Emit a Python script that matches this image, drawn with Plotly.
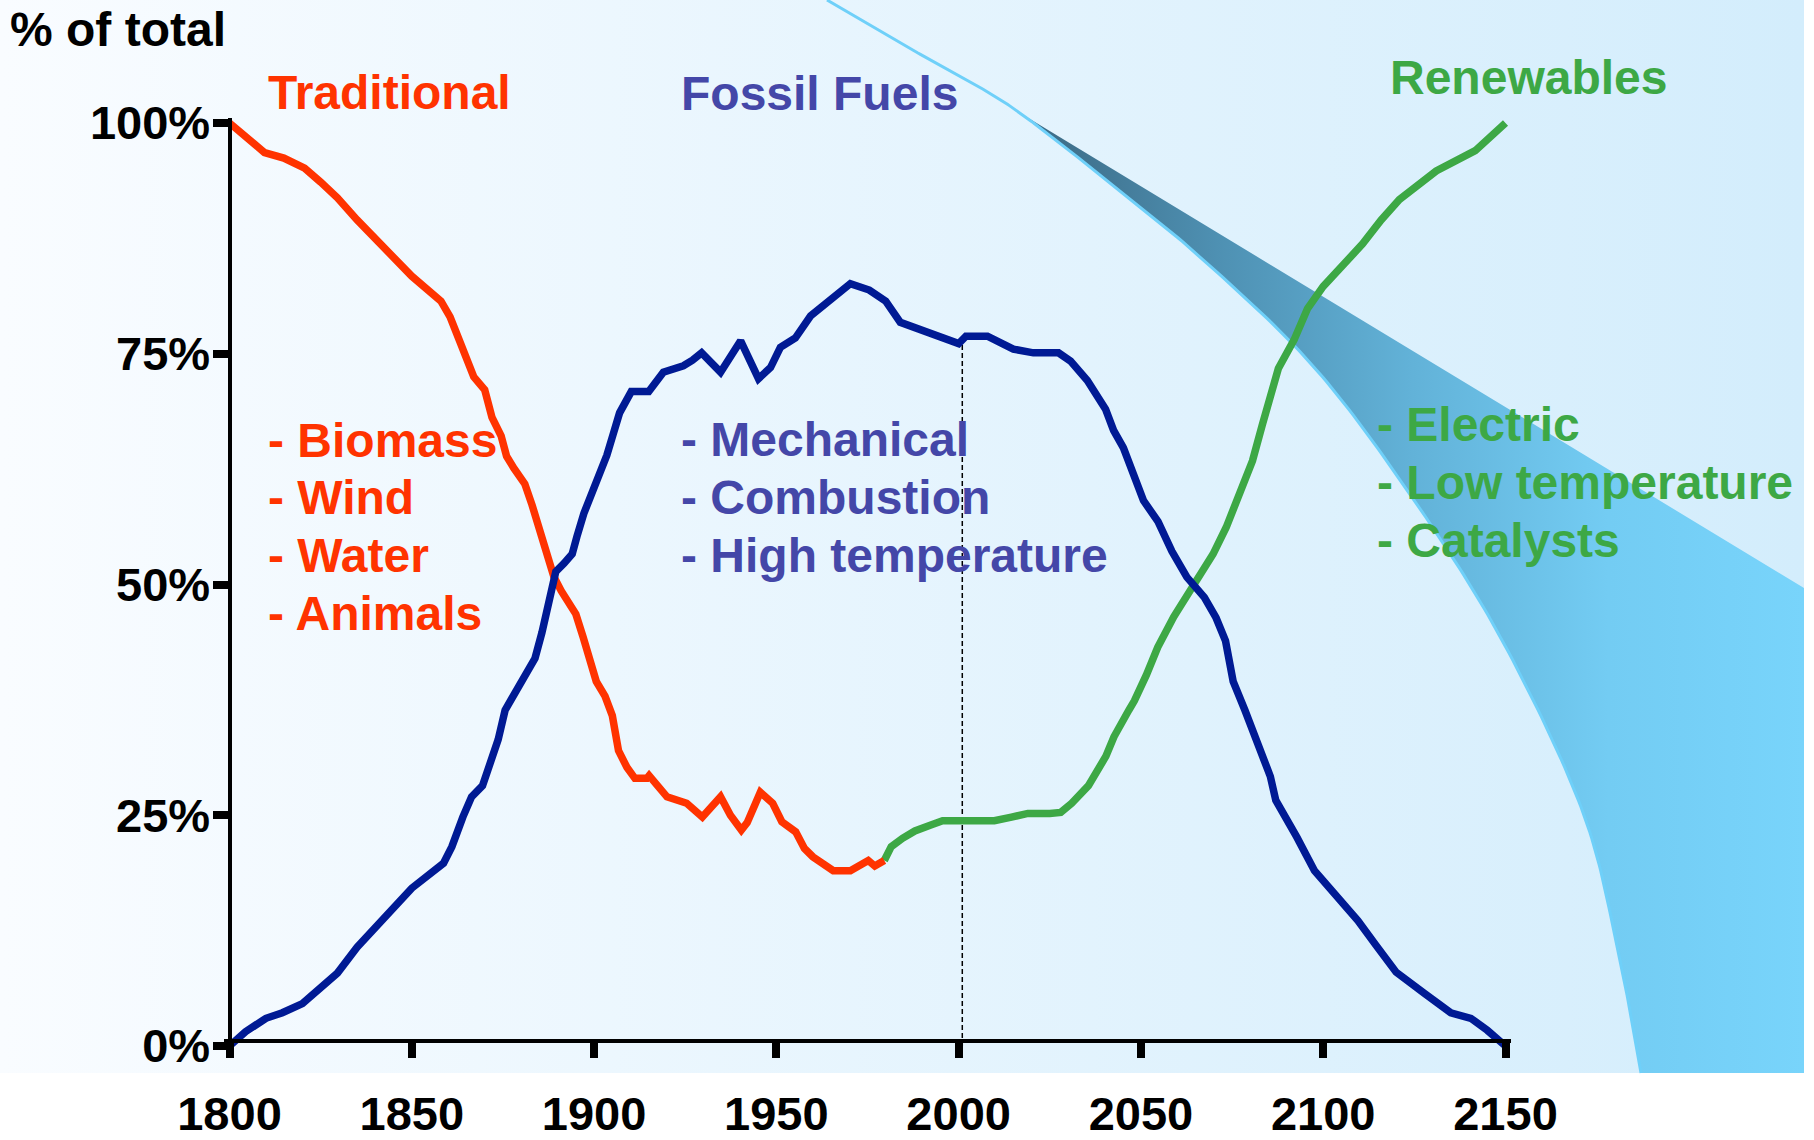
import numpy as np
import plotly.graph_objects as go

# ---------------- data ----------------
trad_years = [1800, 1805.4, 1809.6, 1814.9, 1820.6, 1825, 1829.6, 1835, 1842, 1850, 1858,
              1860.5, 1863, 1866, 1867, 1870, 1872, 1874.5, 1876, 1878, 1881, 1883, 1885,
              1887, 1889, 1891, 1893, 1895, 1897, 1899, 1900.6, 1903, 1905, 1906.7, 1909,
              1911.2, 1914.5, 1915.1, 1920, 1925.4, 1929.7, 1934.7, 1937.4, 1940.4, 1942,
              1945.6, 1949, 1951.5, 1955.3, 1957.7, 1960, 1965.6, 1970.3, 1975.2, 1977, 1979.6]
trad_share = [100, 98.3, 96.8, 96.2, 95.1, 93.6, 91.9, 89.5, 86.6, 83.4, 80.7,
              79.0, 76.5, 73.7, 72.5, 71.1, 68.1, 66.1, 63.9, 62.6, 60.9, 58.6, 55.8,
              52.9, 50.8, 49.3, 48.1, 46.8, 44.3, 41.4, 39.5, 37.9, 35.8, 32.0, 30.2,
              29.0, 29.0, 29.3, 27.0, 26.3, 24.8, 27.0, 25.0, 23.4, 24.2,
              27.5, 26.3, 24.3, 23.2, 21.4, 20.5, 19.0, 19.0, 20.1, 19.5, 20.1]

fossil_years = [1800, 1804.4, 1810, 1814.5, 1820, 1829.6, 1835, 1842.8, 1850, 1858.7, 1861,
                1864, 1866.4, 1869.4, 1871.3, 1873.7, 1875.6, 1878.4, 1881.6, 1883.8, 1885.7,
                1887.6, 1889.5, 1891.8, 1894, 1895.3, 1897.2, 1899.7, 1901.6, 1903.5, 1905.4,
                1907, 1910.2, 1915, 1919, 1924.5, 1927, 1929.5, 1934.7, 1940.2, 1945.1, 1948.4,
                1951.1, 1955.2, 1959.4, 1970.3, 1975.5, 1980, 1984, 1995, 2000, 2002, 2007.9,
                2015, 2020.5, 2027.4, 2030.7, 2035.3, 2040.3, 2042.5, 2045.2, 2050.7, 2054.7,
                2058.5, 2062.6, 2067.4, 2070.6, 2073.2, 2075.3, 2078.5, 2082.6, 2085.5, 2087,
                2090.3, 2092.8, 2097.6, 2102.2, 2109.5, 2114.5, 2120, 2127.8, 2135, 2140.5,
                2145, 2150]
fossil_share = [0, 1.55, 3.0, 3.6, 4.6, 7.9, 10.7, 14.0, 17.1, 19.8, 21.6,
                24.8, 27.0, 28.2, 30.2, 33.2, 36.4, 38.3, 40.2, 42.0, 44.8,
                48.3, 51.4, 52.3, 53.3, 55.2, 57.7, 60.2, 62.1, 64.0, 66.5,
                68.6, 70.9, 70.9, 73.0, 73.7, 74.3, 75.1, 73.0, 76.4, 72.3, 73.5,
                75.7, 76.7, 79.1, 82.6, 81.9, 80.7, 78.4, 76.7, 76.1, 76.9, 76.9,
                75.5, 75.1, 75.1, 74.2, 72.1, 69.0, 66.7, 64.8, 59.1, 56.8,
                53.6, 50.8, 48.6, 46.4, 43.9, 39.5, 36.4, 32.0, 29.2, 26.6,
                24.5, 22.6, 19.0, 16.9, 13.6, 10.9, 8.0, 5.7, 3.6, 3.0,
                1.7, 0]

renew_years = [1979.6, 1981.5, 1984.6, 1988, 1992, 1995.6, 2001, 2009.8, 2014.5, 2019, 2025,
               2028, 2031, 2035.6, 2040.4, 2042.6, 2046.7, 2048.2, 2051.5, 2054.6, 2059,
               2064, 2069.8, 2073.4, 2074.8, 2078.4, 2080.6, 2083.3, 2085.5, 2087.7, 2092,
               2095.7, 2100, 2105, 2110.8, 2115.9, 2120.9, 2131, 2136.8, 2141.7, 2150]
renew_share = [20.1, 21.6, 22.5, 23.3, 23.9, 24.4, 24.4, 24.4, 24.8, 25.2, 25.2,
               25.3, 26.3, 28.2, 31.4, 33.5, 36.4, 37.4, 40.2, 43.2, 46.5,
               49.5, 53.3, 56.2, 57.7, 61.0, 63.4, 67.3, 70.2, 73.4, 76.5,
               79.9, 82.3, 84.4, 86.9, 89.5, 91.7, 94.8, 96.1, 97.0, 100]

today_year = 2001
x_ticks = [1800, 1850, 1900, 1950, 2000, 2050, 2100, 2150]
y_ticks = [0, 25, 50, 75, 100]
y_tick_text = ["0%", "25%", "50%", "75%", "100%"]

trad_items = ["- Biomass", "- Wind", "- Water", "- Animals"]
fossil_items = ["- Mechanical", "- Combustion", "- High temperature"]
renew_items = ["- Electric", "- Low temperature", "- Catalysts"]

# ---------------- styles / layout constants ----------------
W, H = 1814, 1140
RED, NAVY, GREEN, SLATE = "#FF3300", "#001A94", "#3DA845", "#4447A8"
FONT = "Liberation Sans, Arial, sans-serif"
FS = 48
LW = 7.5

# plot-area pixel geometry
X0_PX, X1_PX = 229.5, 1505.5     # 1800 -> 2150
Y0_PX, Y100_PX = 1046.0, 123.0   # 0% -> 100%
XPAD, YPAD = 1.5, 0.5
xr = [x_ticks[0] - XPAD, x_ticks[-1] + XPAD]
yr = [-YPAD, 100 + YPAD]
pxyr = (X1_PX - X0_PX) / (x_ticks[-1] - x_ticks[0])
pxpct = (Y0_PX - Y100_PX) / 100.0
xdom = [(X0_PX - XPAD * pxyr) / W, (X1_PX + XPAD * pxyr) / W]
ydom = [(H - (Y0_PX + YPAD * pxpct)) / H, (H - (Y100_PX - YPAD * pxpct)) / H]


def catmull(pts, n=24):
    pts = np.asarray(pts, float)
    P = np.vstack([2 * pts[0] - pts[1], pts, 2 * pts[-1] - pts[-2]])
    out = []
    for i in range(1, len(P) - 2):
        p0, p1, p2, p3 = P[i - 1], P[i], P[i + 1], P[i + 2]
        for t in np.linspace(0, 1, n, endpoint=False):
            t2, t3 = t * t, t * t * t
            out.append(0.5 * (2 * p1 + (-p0 + p2) * t + (2 * p0 - 5 * p1 + 4 * p2 - p3) * t2
                              + (-p0 + 3 * p1 - 3 * p2 + p3) * t3))
    out.append(P[-2])
    return np.array(out)


fig = go.Figure()

# --- decorative background (pixel coordinate axes x/y) ---
BG_R, BG_B = 1804, 1073
fig.add_trace(go.Scatter(
    x=[0, BG_R, BG_R, 0, 0], y=[0, 0, BG_B, BG_B, 0], mode="lines", fill="toself",
    line=dict(width=0, color="rgba(0,0,0,0)"),
    fillgradient=dict(type="horizontal", colorscale=[[0, "#F9FCFF"], [1, "#D3EDFC"]]),
    hoverinfo="skip", showlegend=False, xaxis="x", yaxis="y"))

curve_ctrl = [(827, 0), (900, 43), (967, 80), (1020, 113), (1100, 175), (1200, 257),
              (1314, 367), (1414, 500), (1502, 640), (1581, 807), (1616, 940), (1641, 1073)]
curve = catmull(curve_ctrl)
lower = curve[curve[:, 1] >= 113]
sw_x = [1020, BG_R, BG_R] + list(lower[::-1, 0])
sw_y = [113, 588, BG_B] + list(lower[::-1, 1])
fig.add_trace(go.Scatter(
    x=sw_x, y=sw_y, mode="lines", fill="toself",
    line=dict(width=0, color="rgba(0,0,0,0)"),
    fillgradient=dict(type="horizontal",
                      colorscale=[[0, "#3A6781"], [0.25, "#4E90B2"], [0.5, "#62B2D8"],
                                  [0.75, "#73CCF3"], [1, "#78D4FB"]]),
    hoverinfo="skip", showlegend=False, xaxis="x", yaxis="y"))
fig.add_trace(go.Scatter(
    x=curve[:, 0], y=curve[:, 1], mode="lines", line=dict(width=3, color="#6FD0F9"),
    hoverinfo="skip", showlegend=False, xaxis="x", yaxis="y"))

# --- data traces ---
today_top = float(np.interp(today_year, fossil_years, fossil_share))
fig.add_trace(go.Scatter(x=[today_year, today_year], y=[0, today_top], mode="lines",
                         line=dict(color="black", width=1.5, dash="5px,3px"),
                         hoverinfo="skip", showlegend=False, xaxis="x2", yaxis="y2"))
fig.add_trace(go.Scatter(x=renew_years, y=renew_share, mode="lines", name="Renewables",
                         line=dict(color=GREEN, width=LW), showlegend=False,
                         xaxis="x2", yaxis="y2"))
fig.add_trace(go.Scatter(x=trad_years, y=trad_share, mode="lines", name="Traditional",
                         line=dict(color=RED, width=LW), showlegend=False,
                         xaxis="x2", yaxis="y2"))
fig.add_trace(go.Scatter(x=fossil_years, y=fossil_share, mode="lines", name="Fossil Fuels",
                         line=dict(color=NAVY, width=LW), showlegend=False,
                         xaxis="x2", yaxis="y2"))

# --- text ---
ann = []


def txt(x, y, s, color, size=FS):
    ann.append(dict(x=x, y=y, xref="x", yref="y", text="<b>%s</b>" % s, showarrow=False,
                    xanchor="left", yanchor="middle", align="left",
                    font=dict(family=FONT, size=size, color=color)))


txt(8, 29, "% of total", "black", 48)
txt(266, 92, "Traditional", RED)
txt(679, 93, "Fossil Fuels", SLATE)
txt(1388, 77, "Renewables", GREEN)
for i, s in enumerate(trad_items):
    txt(266, 440 + i * 57.8, s, RED)
for i, s in enumerate(fossil_items):
    txt(679, 439 + i * 58, s, SLATE)
for i, s in enumerate(renew_items):
    txt(1375, 424 + i * 58, s, GREEN)

tickfont = dict(family=FONT, size=47, color="black", weight="bold")
fig.update_layout(
    width=W, height=H, margin=dict(l=0, r=0, t=0, b=0, pad=0, autoexpand=False),
    autosize=False,
    paper_bgcolor="white", plot_bgcolor="rgba(0,0,0,0)",
    showlegend=False, annotations=ann,
    xaxis=dict(domain=[0, 1], range=[0, W], visible=False, fixedrange=True, automargin=False),
    yaxis=dict(domain=[0, 1], range=[H, 0], visible=False, fixedrange=True, automargin=False),
    xaxis2=dict(domain=xdom, range=xr, anchor="free", position=(H - 1040.5) / H,
                showline=True, linewidth=4, linecolor="black",
                ticks="outside", ticklen=15, tickwidth=8, tickcolor="black",
                tickvals=x_ticks, ticktext=[str(v) for v in x_ticks],
                tickfont=tickfont, ticklabelstandoff=16, automargin=False,
                showgrid=False, zeroline=False, fixedrange=True),
    yaxis2=dict(domain=ydom, range=yr, anchor="free", position=X0_PX / W,
                showline=True, linewidth=4, linecolor="black",
                ticks="outside", ticklen=15, tickwidth=8, tickcolor="black",
                tickvals=y_ticks, ticktext=y_tick_text, tickfont=tickfont,
                ticklabelstandoff=-7, automargin=False,
                showgrid=False, zeroline=False, fixedrange=True),
)

fig.write_html("out.html", config={"displayModeBar": False},
               post_script="document.body.style.margin='0';document.body.style.overflow='hidden';")
